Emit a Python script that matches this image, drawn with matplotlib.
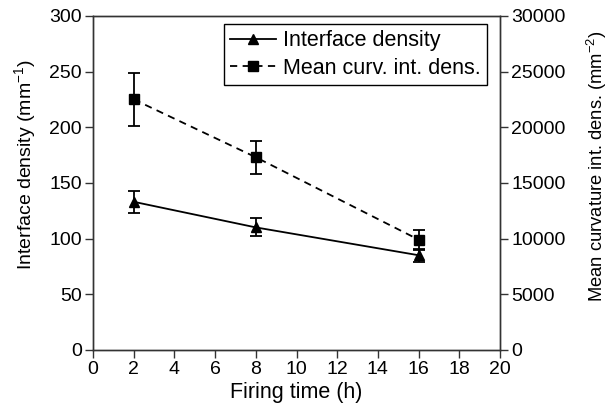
import matplotlib
matplotlib.use("Agg")
import matplotlib.pyplot as plt
from matplotlib.lines import Line2D

plt.rcParams['font.family'] = ['Liberation Sans', 'DejaVu Sans']
plt.rcParams['font.size'] = 14
plt.rcParams['mathtext.default'] = 'regular'

# Firing time (h)
firing_time = [2, 8, 16]

# Interface density (mm^-1) with error
interface_density = [133, 110, 85]
interface_err = [10, 8, 6]

# Mean curvature integral density (mm^-2) with error
mean_curv = [22500, 17300, 9900]
mean_curv_err = [2400, 1500, 900]

fig = plt.figure(figsize=(6.12, 4.18), dpi=100)
ax = fig.add_axes([0.152, 0.163, 0.665, 0.799])
ax2 = ax.twinx()

ax.errorbar(firing_time, interface_density, yerr=interface_err, color='black',
            marker='^', markersize=7.5, linewidth=1.3, capsize=4, elinewidth=1.3,
            capthick=1.3)
ax2.errorbar(firing_time, mean_curv, yerr=mean_curv_err, color='black',
             marker='s', markersize=7, linewidth=1.3, linestyle=(0, (4, 3)),
             capsize=4, elinewidth=1.3, capthick=1.3)

ax.set_xlim(0, 20)
ax.set_ylim(0, 300)
ax2.set_ylim(0, 30000)
ax.set_xticks(range(0, 21, 2))
ax.set_yticks(range(0, 301, 50))
ax2.set_yticks(range(0, 30001, 5000))

ax.set_xlabel('Firing time (h)', labelpad=3, fontsize=15.5)
ax.set_ylabel('Interface density (mm$^{-1}$)', fontsize=14)
ax2.set_ylabel('Mean curvature int. dens. (mm$^{-2}$)', fontsize=13.2)
ax.yaxis.set_label_coords(-0.135, 0.554)
ax2.yaxis.set_label_coords(1.208, 0.551)

for a in (ax, ax2):
    a.tick_params(direction='out', length=6, width=1, labelsize=14, pad=2,
                  color='#333333')
    for s in a.spines.values():
        s.set_linewidth(1)
        s.set_color('#333333')

handles = [
    Line2D([], [], color='black', marker='^', markersize=7, linewidth=1.3),
    Line2D([], [], color='black', marker='s', markersize=6.5, linewidth=1.3,
           linestyle=(0, (4, 3))),
]
leg = ax.legend(handles, ['Interface density', 'Mean curv. int. dens.'],
                loc='upper right', bbox_to_anchor=(0.968, 0.976),
                fancybox=False, edgecolor='black', framealpha=1,
                handlelength=2.1, handletextpad=0.33, borderaxespad=0,
                borderpad=0.3, labelspacing=0.3, fontsize=15.5)
leg.get_frame().set_linewidth(1)

fig.savefig('out.png', dpi=100)
